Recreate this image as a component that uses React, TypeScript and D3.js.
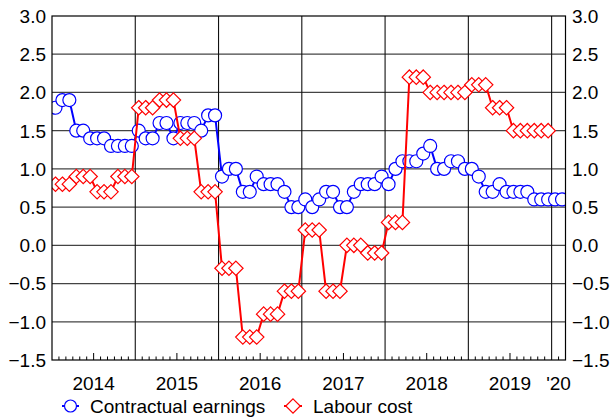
import React from "react";
import * as d3 from "d3";

const years = ["2014", "2015", "2016", "2017", "2018", "2019", "'20"];
const yTicks = [-1.5, -1.0, -0.5, 0.0, 0.5, 1.0, 1.5, 2.0, 2.5, 3.0];

// Monthly values from Jan 2014
const contractualEarnings = [
  1.8, 1.9, 1.9, 1.5, 1.5, 1.4, 1.4, 1.4, 1.3, 1.3, 1.3, 1.3,
  1.5, 1.4, 1.4, 1.6, 1.6, 1.4, 1.6, 1.6, 1.6, 1.5, 1.7, 1.7,
  0.9, 1.0, 1.0, 0.7, 0.7, 0.9, 0.8, 0.8, 0.8, 0.7, 0.5, 0.5,
  0.6, 0.5, 0.6, 0.7, 0.7, 0.5, 0.5, 0.7, 0.8, 0.8, 0.8, 0.9,
  0.8, 1.0, 1.1, 1.1, 1.1, 1.2, 1.3, 1.0, 1.0, 1.1, 1.1, 1.0,
  1.0, 0.9, 0.7, 0.7, 0.8, 0.7, 0.7, 0.7, 0.7, 0.6, 0.6, 0.6,
  0.6, 0.6,
];

const labourCost = [
  0.8, 0.8, 0.8, 0.9, 0.9, 0.9, 0.7, 0.7, 0.7, 0.9, 0.9, 0.9,
  1.8, 1.8, 1.8, 1.9, 1.9, 1.9, 1.4, 1.4, 1.4, 0.7, 0.7, 0.7,
  -0.3, -0.3, -0.3, -1.2, -1.2, -1.2, -0.9, -0.9, -0.9, -0.6, -0.6, -0.6,
  0.2, 0.2, 0.2, -0.6, -0.6, -0.6, 0.0, 0.0, 0.0, -0.1, -0.1, -0.1,
  0.3, 0.3, 0.3, 2.2, 2.2, 2.2, 2.0, 2.0, 2.0, 2.0, 2.0, 2.0,
  2.1, 2.1, 2.1, 1.8, 1.8, 1.8, 1.5, 1.5, 1.5, 1.5, 1.5, 1.5,
];

const TOTAL_MONTHS = 74;
const FONT = "'Liberation Sans', Arial, sans-serif";

export default function App() {
  const W = 613, H = 418;
  const left = 52, right = 565.5, top = 16, bottom = 360;
  const x = d3.scaleLinear().domain([0, TOTAL_MONTHS]).range([left, right]);
  const y = d3.scaleLinear().domain([-1.5, 3]).range([bottom, top]);

  const lineGen = d3
    .line<number>()
    .x((_, i) => x(i + 0.5))
    .y((d) => y(d));

  const fmt = (v: number) => (v < 0 ? "\u2212" : "") + Math.abs(v).toFixed(1);

  const yearLines = d3.range(12, TOTAL_MONTHS, 12);
  const monthTicks = d3.range(1, TOTAL_MONTHS);
  const labelPos = [6, 18, 30, 42, 54, 66, 73];

  const diamond = (cx: number, cy: number, r: number) =>
    `M${cx},${cy - r}L${cx + r},${cy}L${cx},${cy + r}L${cx - r},${cy}Z`;

  return (
    <svg width={W} height={H} style={{ position: "absolute", left: 0, top: 0 }}>
      <rect width={W} height={H} fill="#fff" />
      <defs>
        <clipPath id="plot">
          <rect x={left} y={top} width={right - left} height={bottom - top} />
        </clipPath>
      </defs>
      {/* horizontal grid */}
      {yTicks.slice(1, -1).map((t) => (
        <line key={t} x1={left} x2={right} y1={y(t)} y2={y(t)} stroke="#444" strokeWidth={1.3} />
      ))}
      {/* vertical year lines */}
      {yearLines.map((m) => (
        <line key={m} x1={x(m)} x2={x(m)} y1={top} y2={bottom} stroke="#111" strokeWidth={1.1} />
      ))}
      {/* bottom ticks */}
      {monthTicks.map((m) =>
        m % 12 === 0 ? null : (
          <line
            key={m}
            x1={x(m)}
            x2={x(m)}
            y1={bottom}
            y2={bottom - (m % 12 === 6 ? 7 : 3.5)}
            stroke="#000"
            strokeWidth={1}
          />
        )
      )}
      <g clipPath="url(#plot)">
        <path d={lineGen(contractualEarnings) || ""} fill="none" stroke="#0000ff" strokeWidth={2} />
        {contractualEarnings.map((v, i) => (
          <circle key={i} cx={x(i + 0.5)} cy={y(v)} r={6.5} fill="#fff" stroke="#0000ff" strokeWidth={1.2} />
        ))}
        <path d={lineGen(labourCost) || ""} fill="none" stroke="#ff0000" strokeWidth={2} />
        {labourCost.map((v, i) => (
          <path key={i} d={diamond(x(i + 0.5), y(v), 7.2)} fill="#fff" stroke="#ff0000" strokeWidth={1.2} />
        ))}
      </g>
      {/* frame */}
      <rect x={left} y={top} width={right - left} height={bottom - top} fill="none" stroke="#000" strokeWidth={1.2} />
      {/* y labels */}
      {yTicks.map((t) => (
        <g key={t} fontFamily={FONT} fontSize={19} fill="#000">
          <text x={46} y={y(t)} dy="0.36em" textAnchor="end">{fmt(t)}</text>
          <text x={572} y={y(t)} dy="0.36em" textAnchor="start">{fmt(t)}</text>
        </g>
      ))}
      {/* x labels */}
      {years.map((yr, i) => (
        <text key={yr} x={x(labelPos[i])} y={390} textAnchor="middle" fontFamily={FONT} fontSize={19} fill="#000">
          {yr}
        </text>
      ))}
      {/* legend */}
      <g fontFamily={FONT} fontSize={19} fill="#000">
        <line x1={62} x2={79} y1={406} y2={406} stroke="#0000ff" strokeWidth={2} />
        <circle cx={70.5} cy={406} r={6} fill="#fff" stroke="#0000ff" strokeWidth={1.2} />
        <text x={90} y={413}>Contractual earnings</text>
        <line x1={284} x2={302} y1={406} y2={406} stroke="#ff0000" strokeWidth={2} />
        <path d={diamond(293, 406, 7.2)} fill="#fff" stroke="#ff0000" strokeWidth={1.2} />
        <text x={313} y={413}>Labour cost</text>
      </g>
    </svg>
  );
}
